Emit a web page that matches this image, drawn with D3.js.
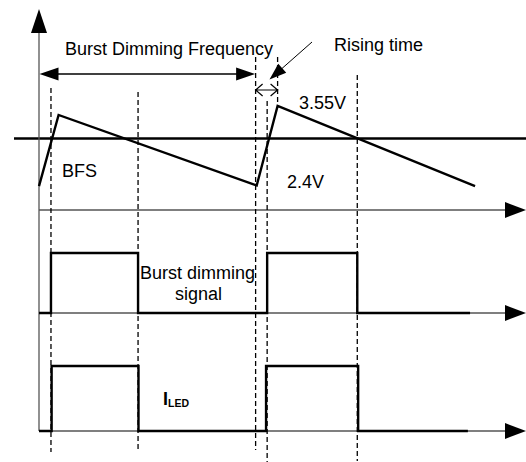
<!DOCTYPE html>
<html><head><meta charset="utf-8">
<script src="https://cdn.jsdelivr.net/npm/d3@7"></script>
<style>
body{margin:0;background:#fff}
text{font-family:"Liberation Sans",Arial,sans-serif;fill:#000}
</style>
</head><body>
<svg id="c" width="526" height="462"></svg>
<script>
// ---------- data (time in burst periods, ramp in volts) ----------
const rampT = [0, 0.09, 1.0, 1.096, 2.003];
const rampV = [2.39, 3.42, 2.40, 3.55, 2.39];
const thresholdV = 3.08;
const burstT = [0, 0.055, 0.055, 0.455, 0.455, 1.048, 1.048, 1.462, 1.462, 1.98];
const burstV = [0, 0, 1, 1, 0, 0, 1, 1, 0, 0];
const iledT = [0, 0.058, 0.058, 0.457, 0.457, 1.043, 1.043, 1.466, 1.466, 1.97];
const iledV = [0, 0, 1, 1, 0, 0, 1, 1, 0, 0];
const markerT = [0.055, 0.455, 0.995, 1.048, 1.096, 1.462];
const periodT = [0, 0.995];
const riseT = [0.995, 1.096];
const textLabels = ["Burst Dimming Frequency", "Rising time", "3.55V", "BFS", "2.4V", "Burst dimming", "signal"];

// ---------- layout ----------
const W = 526, H = 462;
const svg = d3.select("#c");
const x = d3.scaleLinear().domain([0, 1]).range([39, 256.7]);
const yRamp = d3.scaleLinear().domain([2.4, 3.55]).range([185.5, 106]);
const yBurst = d3.scaleLinear().domain([0, 1]).range([313, 253]);
const yIled = d3.scaleLinear().domain([0, 1]).range([431, 366]);
const axisY = [210, yBurst(0), yIled(0)];
const markerExt = [[88, 452], [92, 451], [57, 450], [101, 462], [57, 105], [75, 461]];

function arrowHead(tx, ty, ang, L, hw) {
  const c = Math.cos(ang), s = Math.sin(ang);
  const bx = tx - L * c, by = ty - L * s;
  return `M${tx},${ty}L${bx - hw * s},${by + hw * c}L${bx + hw * s},${by - hw * c}Z`;
}

// threshold line
svg.append("line").attr("x1", 14).attr("x2", W)
  .attr("y1", yRamp(thresholdV)).attr("y2", yRamp(thresholdV))
  .attr("stroke", "#000").attr("stroke-width", 2.4);

// vertical axis
svg.append("line").attr("x1", x(0)).attr("x2", x(0)).attr("y1", 20).attr("y2", yIled(0))
  .attr("stroke", "#555").attr("stroke-width", 1.3);
svg.append("path").attr("d", arrowHead(x(0), 9, -Math.PI / 2, 24, 8)).attr("fill", "#000");

// time axes
axisY.forEach(yy => {
  svg.append("line").attr("x1", x(0)).attr("x2", W - 12).attr("y1", yy).attr("y2", yy)
    .attr("stroke", "#555").attr("stroke-width", 1.3);
  svg.append("path").attr("d", arrowHead(W, yy, 0, 21, 8)).attr("fill", "#000");
});

// dashed markers
markerT.forEach((t, i) => {
  svg.append("line").attr("x1", x(t)).attr("x2", x(t))
    .attr("y1", markerExt[i][0]).attr("y2", markerExt[i][1])
    .attr("stroke", "#000").attr("stroke-width", 1.3).attr("stroke-dasharray", "5,3");
});

// ramp
const rampLine = d3.line().x(d => x(d[0])).y(d => yRamp(d[1]));
svg.append("path").attr("d", rampLine(d3.zip(rampT, rampV)))
  .attr("fill", "none").attr("stroke", "#000").attr("stroke-width", 2.4);

// burst dimming signal
const burstLine = d3.line().x(d => x(d[0])).y(d => yBurst(d[1]));
svg.append("path").attr("d", burstLine(d3.zip(burstT, burstV)))
  .attr("fill", "none").attr("stroke", "#000").attr("stroke-width", 2.4);

// ILED
const iledLine = d3.line().x(d => x(d[0])).y(d => yIled(d[1]));
svg.append("path").attr("d", iledLine(d3.zip(iledT, iledV)))
  .attr("fill", "none").attr("stroke", "#000").attr("stroke-width", 2.4);

// period arrow
const py = 74;
svg.append("line").attr("x1", x(periodT[0]) + 10).attr("x2", x(periodT[1]) - 10)
  .attr("y1", py).attr("y2", py).attr("stroke", "#000").attr("stroke-width", 1.3);
svg.append("path").attr("d", arrowHead(x(periodT[0]) + 0.5, py, Math.PI, 19, 6.5)).attr("fill", "#000");
svg.append("path").attr("d", arrowHead(x(periodT[1]) - 0.5, py, 0, 19, 6.5)).attr("fill", "#000");

// rising time arrow (open heads)
const ry = 90;
const rx0 = x(riseT[0]), rx1 = x(riseT[1]);
svg.append("path")
  .attr("d", `M${rx0},${ry}L${rx1},${ry}M${rx0 + 7},${ry - 6}L${rx0},${ry}L${rx0 + 7},${ry + 6}M${rx1 - 7},${ry - 6}L${rx1},${ry}L${rx1 - 7},${ry + 6}`)
  .attr("fill", "none").attr("stroke", "#000").attr("stroke-width", 1.2);

// leader arrow for rising time
const lx0 = 312, ly0 = 42, ltx = 269.5, lty = 79.5;
const lang = Math.atan2(lty - ly0, ltx - lx0);
svg.append("line").attr("x1", lx0).attr("y1", ly0)
  .attr("x2", ltx - 14 * Math.cos(lang)).attr("y2", lty - 14 * Math.sin(lang))
  .attr("stroke", "#000").attr("stroke-width", 1);
svg.append("path").attr("d", arrowHead(ltx, lty, lang, 17, 6)).attr("fill", "#000");

// labels
const fs = 18;
const pos = [[65, 55], [334, 51], [299, 109], [62, 177], [287, 188], [140, 279], [175, 300]];
textLabels.forEach((t, i) => {
  svg.append("text").attr("x", pos[i][0]).attr("y", pos[i][1])
    .attr("font-size", fs).text(t);
});
const il = svg.append("text").attr("x", 163).attr("y", 405).attr("font-weight", "bold");
il.append("tspan").attr("font-size", 18).text("I");
il.append("tspan").attr("font-size", 10.5).attr("dy", 1.5).text("LED");
</script>
</body></html>
